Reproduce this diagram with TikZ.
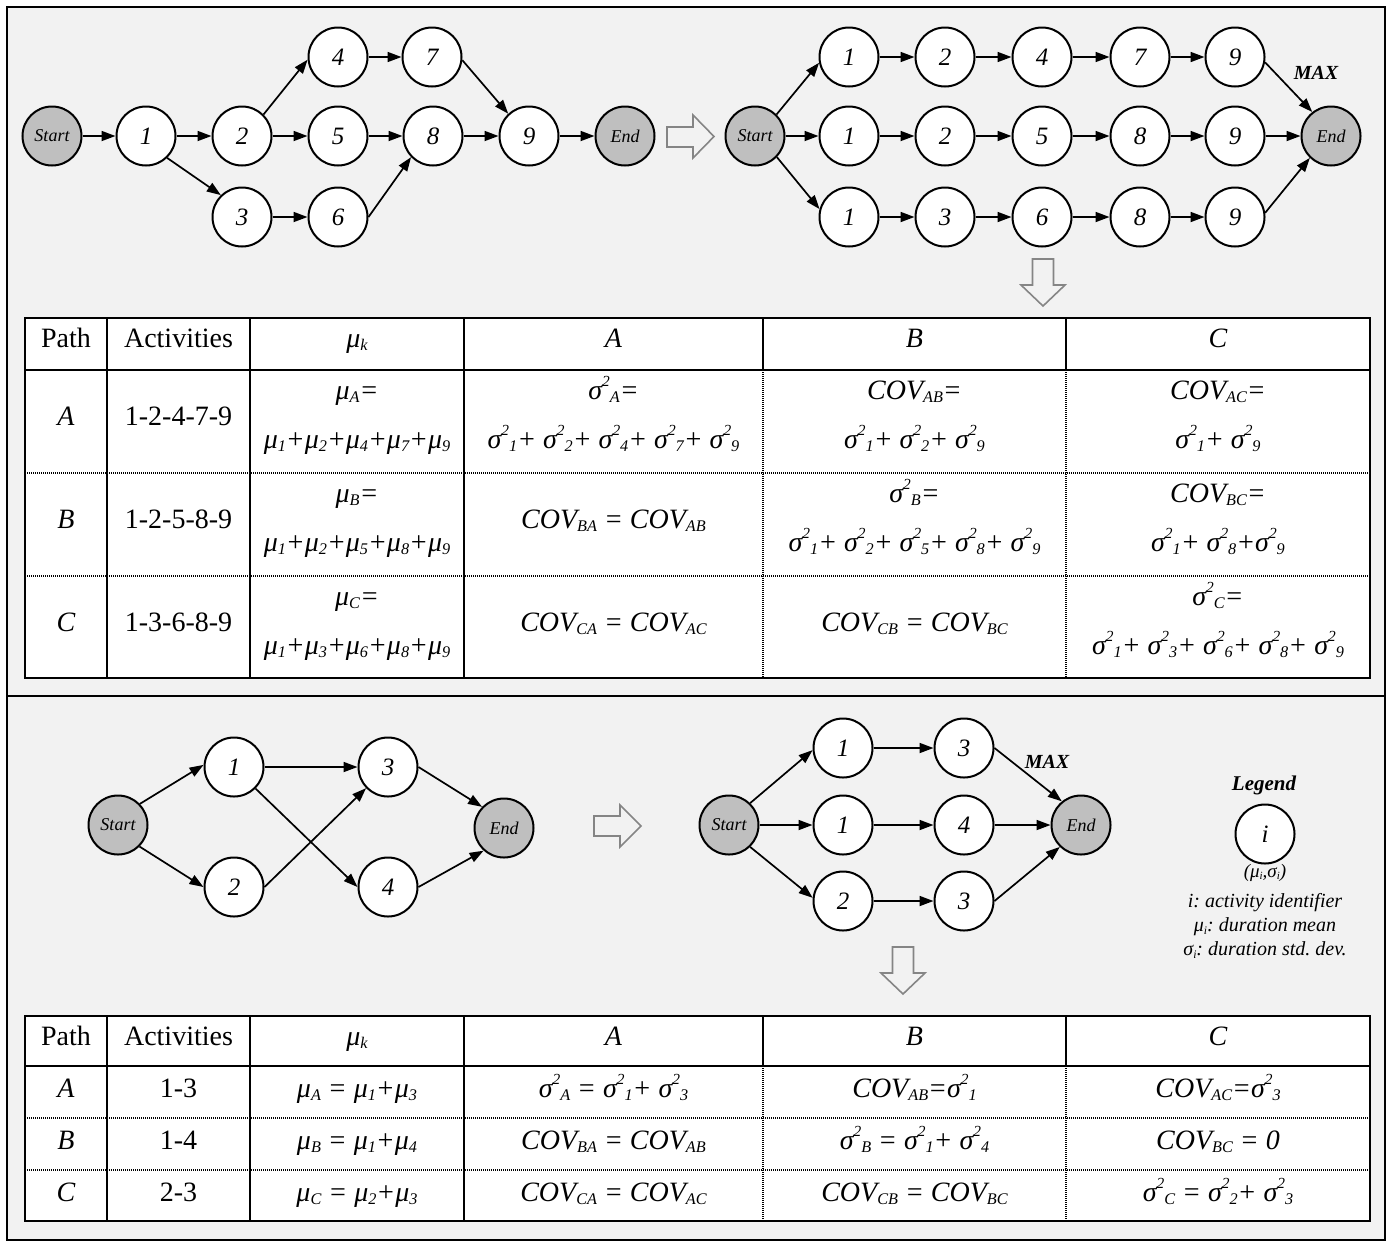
\documentclass[tikz,border=0pt]{standalone}
\usepackage{graphicx}
\usepackage{fontspec}
\setmainfont{Liberation Serif}
\usetikzlibrary{arrows.meta}
\definecolor{bgpanel}{HTML}{F2F2F2}
\definecolor{termgray}{HTML}{BFBFBF}
\definecolor{blockgray}{HTML}{858585}
\newcommand\smsub[1]{\raisebox{-0.25ex}{\scalebox{0.58}{#1}}}
\newcommand\smsup[1]{\raisebox{0.95ex}{\scalebox{0.55}{#1}}}
\newcommand\mysig[1]{σ\smsup{2}\smsub{#1}}
\newcommand\mymu[1]{μ\smsub{#1}}
\newcommand\mycov[1]{COV\smsub{#1}}
\tikzset{
  act/.style={circle, draw, line width=2pt, fill=white, minimum size=59pt, inner sep=0pt,
    font=\fontsize{25}{30}\selectfont\itshape},
  term/.style={act, fill=termgray, font=\fontsize{18}{22}\selectfont\itshape},
  edge/.style={line width=1.7pt, -{Triangle[length=14pt,width=10pt]}},
  blockarrow/.style={draw=blockgray, line width=1.6pt, line join=miter},
  maxlbl/.style={font=\fontsize{20}{24}\selectfont\bfseries\itshape, inner sep=0pt},
  tabup/.style={anchor=base, inner sep=0pt, font=\fontsize{28}{34}\selectfont},
  tabit/.style={anchor=base, inner sep=0pt, font=\fontsize{28}{34}\selectfont\itshape},
  tabouter/.style={line width=2.5pt},
  tabsolid/.style={line width=1.5pt},
  tabdot/.style={line width=1.5pt, dash pattern=on 1pt off 1pt},
  legtxt/.style={inner sep=0pt, font=\fontsize{20}{24}\selectfont\itshape},
}
\begin{document}
\frenchspacing
\begin{tikzpicture}[x=1pt,y=-1pt]
\useasboundingbox (0,0) rectangle (1391,1243);
\fill[white] (0,0) rectangle (1391,1243);
% frame and panels
\draw[line width=2.5pt, fill=bgpanel] (7,7) rectangle (1385,1240);
\draw[line width=2.5pt] (7,696) -- (1385,696);

% ---------- top left graph ----------
\node[term] (sL) at (52,136) {Start};
\node[act] (a1) at (146,136) {1};
\node[act] (a2) at (242,136) {2};
\node[act] (a3) at (242,217) {3};
\node[act] (a4) at (338,57) {4};
\node[act] (a5) at (338,136) {5};
\node[act] (a6) at (338,217) {6};
\node[act] (a7) at (432,57) {7};
\node[act] (a8) at (433,136) {8};
\node[act] (a9) at (529,136) {9};
\node[term] (eL) at (625,136) {End};
\draw[edge] (sL) -- (a1);
\draw[edge] (a1) -- (a2);
\draw[edge] (a1.314) -- (a3.134);
\draw[edge] (a2.45) -- (a4.185);
\draw[edge] (a2) -- (a5);
\draw[edge] (a3) -- (a6);
\draw[edge] (a4) -- (a7);
\draw[edge] (a5) -- (a8);
\draw[edge] (a6.east) -- (a8.224);
\draw[edge] (a7.354) -- (a9.133);
\draw[edge] (a8) -- (a9);
\draw[edge] (a9) -- (eL);

% right block arrow (top)
\draw[blockarrow] (667,127) -- (693,127) -- (693,115) -- (714,136.5) -- (693,158) -- (693,147) -- (667,147) -- cycle;

% ---------- top right graph ----------
\node[term] (sR) at (755,136) {Start};
\node[act] (p1) at (849,57) {1};
\node[act] (p2) at (945,57) {2};
\node[act] (p4) at (1042,57) {4};
\node[act] (p7) at (1140,57) {7};
\node[act] (p9) at (1235,57) {9};
\node[act] (q1) at (849,136) {1};
\node[act] (q2) at (945,136) {2};
\node[act] (q5) at (1042,136) {5};
\node[act] (q8) at (1140,136) {8};
\node[act] (q9) at (1235,136) {9};
\node[act] (r1) at (849,217) {1};
\node[act] (r3) at (945,217) {3};
\node[act] (r6) at (1042,217) {6};
\node[act] (r8) at (1140,217) {8};
\node[act] (r9) at (1235,217) {9};
\node[term] (eR) at (1331,136) {End};
\draw[edge] (sR.45) -- (p1.191);
\draw[edge] (sR) -- (q1);
\draw[edge] (sR.316) -- (r1.165);
\draw[edge] (p1) -- (p2);
\draw[edge] (p2) -- (p4);
\draw[edge] (p4) -- (p7);
\draw[edge] (p7) -- (p9);
\draw[edge] (q1) -- (q2);
\draw[edge] (q2) -- (q5);
\draw[edge] (q5) -- (q8);
\draw[edge] (q8) -- (q9);
\draw[edge] (r1) -- (r3);
\draw[edge] (r3) -- (r6);
\draw[edge] (r6) -- (r8);
\draw[edge] (r8) -- (r9);
\draw[edge] (p9.350) -- (eR.128);
\draw[edge] (q9) -- (eR);
\draw[edge] (r9.8) -- (eR.226);
\node[maxlbl] (max1) at (1316,73) {MAX};

% down block arrow (top)
\draw[blockarrow] (1032.5,259) -- (1053.5,259) -- (1053.5,285) -- (1065,285) -- (1043,306) -- (1021,285) -- (1032.5,285) -- cycle;

% ---------- top table ----------
\draw[fill=white, draw=none] (25,318) rectangle (1370,678);
\draw[tabsolid] (107,318) -- (107,678);
\draw[tabsolid] (250,318) -- (250,678);
\draw[tabsolid] (464,318) -- (464,678);
\draw[tabsolid] (763,318) -- (763,370);
\draw[tabsolid] (1066,318) -- (1066,370);
\draw[tabdot] (763,370) -- (763,678);
\draw[tabdot] (1066,370) -- (1066,678);
\draw[tabdot] (25,473) -- (1370,473);
\draw[tabdot] (25,576) -- (1370,576);
\draw[tabouter] (25,370) -- (1370,370);
\draw[tabouter] (25,318) rectangle (1370,678);

\node[tabup] (th1) at (66,347) {Path};
\node[tabup] (th2) at (178.5,347) {Activities};
\node[tabit] (th3) at (357,347) {\mymu{k}};
\node[tabit] (th4) at (613.5,347) {A};
\node[tabit] (th5) at (914.5,347) {B};
\node[tabit] (th6) at (1218,347) {C};

\node[tabit] (ta1) at (66,425) {A};
\node[tabup] (ta2) at (178.5,425) {1-2-4-7-9};
\node[tabit] (ta3a) at (357,399) {\mymu{A}=};
\node[tabit] (ta3b) at (357,448) {\mymu{1}+\mymu{2}+\mymu{4}+\mymu{7}+\mymu{9}};
\node[tabit] (ta4a) at (613.5,399) {\mysig{A}=};
\node[tabit] (ta4b) at (613.5,448) {\mysig{1}+ \mysig{2}+ \mysig{4}+ \mysig{7}+ \mysig{9}};
\node[tabit] (ta5a) at (914.5,399) {\mycov{AB}=};
\node[tabit] (ta5b) at (914.5,448) {\mysig{1}+ \mysig{2}+ \mysig{9}};
\node[tabit] (ta6a) at (1218,399) {\mycov{AC}=};
\node[tabit] (ta6b) at (1218,448) {\mysig{1}+ \mysig{9}};

\node[tabit] (tb1) at (66,528) {B};
\node[tabup] (tb2) at (178.5,528) {1-2-5-8-9};
\node[tabit] (tb3a) at (357,502) {\mymu{B}=};
\node[tabit] (tb3b) at (357,551) {\mymu{1}+\mymu{2}+\mymu{5}+\mymu{8}+\mymu{9}};
\node[tabit] (tb4) at (613.5,528) {\mycov{BA} = \mycov{AB}};
\node[tabit] (tb5a) at (914.5,502) {\mysig{B}=};
\node[tabit] (tb5b) at (914.5,551) {\mysig{1}+ \mysig{2}+ \mysig{5}+ \mysig{8}+ \mysig{9}};
\node[tabit] (tb6a) at (1218,502) {\mycov{BC}=};
\node[tabit] (tb6b) at (1218,551) {\mysig{1}+ \mysig{8}+\mysig{9}};

\node[tabit] (tc1) at (66,631) {C};
\node[tabup] (tc2) at (178.5,631) {1-3-6-8-9};
\node[tabit] (tc3a) at (357,605) {\mymu{C}=};
\node[tabit] (tc3b) at (357,654) {\mymu{1}+\mymu{3}+\mymu{6}+\mymu{8}+\mymu{9}};
\node[tabit] (tc4) at (613.5,631) {\mycov{CA} = \mycov{AC}};
\node[tabit] (tc5) at (914.5,631) {\mycov{CB} = \mycov{BC}};
\node[tabit] (tc6a) at (1218,605) {\mysig{C}=};
\node[tabit] (tc6b) at (1218,654) {\mysig{1}+ \mysig{3}+ \mysig{6}+ \mysig{8}+ \mysig{9}};

% ---------- bottom left graph ----------
\node[term] (s2) at (118,825) {Start};
\node[act] (b1) at (234,767) {1};
\node[act] (b2) at (234,887) {2};
\node[act] (b3) at (388,767) {3};
\node[act] (b4) at (388,887) {4};
\node[term] (e2) at (504,828) {End};
\draw[edge] (s2.44) -- (b1.176);
\draw[edge] (s2.315) -- (b2.west);
\draw[edge] (b1) -- (b3);
\draw[edge] (b1.315) -- (b4.west);
\draw[edge] (b2.east) -- (b3.224);
\draw[edge] (b3.east) -- (e2.136);
\draw[edge] (b4.east) -- (e2.228);

% right block arrow (bottom)
\draw[blockarrow] (594,816) -- (620,816) -- (620,805) -- (641,826) -- (620,847) -- (620,836) -- (594,836) -- cycle;

% ---------- bottom middle graph ----------
\node[term] (s3) at (729,825) {Start};
\node[act] (m1) at (843,748) {1};
\node[act] (m3) at (964,748) {3};
\node[act] (n1) at (843,825) {1};
\node[act] (n4) at (964,825) {4};
\node[act] (o2) at (843,901) {2};
\node[act] (o3) at (964,901) {3};
\node[term] (e3) at (1081,825) {End};
\draw[edge] (s3.46) -- (m1.184);
\draw[edge] (s3) -- (n1);
\draw[edge] (s3.314) -- (o2.174);
\draw[edge] (m1) -- (m3);
\draw[edge] (n1) -- (n4);
\draw[edge] (o2) -- (o3);
\draw[edge] (m3.east) -- (e3.129);
\draw[edge] (n4) -- (e3);
\draw[edge] (o3.east) -- (e3.226);
\node[maxlbl] (max2) at (1047,762) {MAX};

% down block arrow (bottom)
\draw[blockarrow] (892.5,947) -- (913.5,947) -- (913.5,973) -- (925,973) -- (903,994) -- (881,973) -- (892.5,973) -- cycle;

% ---------- legend ----------
\node[inner sep=0pt, font=\fontsize{21}{25}\selectfont\bfseries\itshape] (lgt) at (1264,785) {Legend};
\node[act] (lgc) at (1265,834) {i};
\node[inner sep=0pt, font=\fontsize{19}{22}\selectfont\itshape] (lgp) at (1265,873) {(\mymu{i},σ\smsub{i})};
\node[legtxt] (lg1) at (1265,903) {i: activity identifier};
\node[legtxt] (lg2) at (1265,927) {\mymu{i}: duration mean};
\node[legtxt] (lg3) at (1265,950) {σ\smsub{i}: duration std. dev.};

% ---------- bottom table ----------
\draw[fill=white, draw=none] (25,1016) rectangle (1370,1221);
\draw[tabsolid] (107,1016) -- (107,1221);
\draw[tabsolid] (250,1016) -- (250,1221);
\draw[tabsolid] (464,1016) -- (464,1221);
\draw[tabsolid] (763,1016) -- (763,1066);
\draw[tabsolid] (1066,1016) -- (1066,1066);
\draw[tabdot] (763,1066) -- (763,1221);
\draw[tabdot] (1066,1066) -- (1066,1221);
\draw[tabdot] (25,1118) -- (1370,1118);
\draw[tabdot] (25,1170) -- (1370,1170);
\draw[tabouter] (25,1066) -- (1370,1066);
\draw[tabouter] (25,1016) rectangle (1370,1221);

\node[tabup] (uh1) at (66,1045) {Path};
\node[tabup] (uh2) at (178.5,1045) {Activities};
\node[tabit] (uh3) at (357,1045) {\mymu{k}};
\node[tabit] (uh4) at (613.5,1045) {A};
\node[tabit] (uh5) at (914.5,1045) {B};
\node[tabit] (uh6) at (1218,1045) {C};

\node[tabit] (ua1) at (66,1097) {A};
\node[tabup] (ua2) at (178.5,1097) {1-3};
\node[tabit] (ua3) at (357,1097) {\mymu{A} = \mymu{1}+\mymu{3}};
\node[tabit] (ua4) at (613.5,1097) {\mysig{A} = \mysig{1}+ \mysig{3}};
\node[tabit] (ua5) at (914.5,1097) {\mycov{AB}=\mysig{1}};
\node[tabit] (ua6) at (1218,1097) {\mycov{AC}=\mysig{3}};

\node[tabit] (ub1) at (66,1149) {B};
\node[tabup] (ub2) at (178.5,1149) {1-4};
\node[tabit] (ub3) at (357,1149) {\mymu{B} = \mymu{1}+\mymu{4}};
\node[tabit] (ub4) at (613.5,1149) {\mycov{BA} = \mycov{AB}};
\node[tabit] (ub5) at (914.5,1149) {\mysig{B} = \mysig{1}+ \mysig{4}};
\node[tabit] (ub6) at (1218,1149) {\mycov{BC} = 0};

\node[tabit] (uc1) at (66,1201) {C};
\node[tabup] (uc2) at (178.5,1201) {2-3};
\node[tabit] (uc3) at (357,1201) {\mymu{C} = \mymu{2}+\mymu{3}};
\node[tabit] (uc4) at (613.5,1201) {\mycov{CA} = \mycov{AC}};
\node[tabit] (uc5) at (914.5,1201) {\mycov{CB} = \mycov{BC}};
\node[tabit] (uc6) at (1218,1201) {\mysig{C} = \mysig{2}+ \mysig{3}};
\end{tikzpicture}
\end{document}
